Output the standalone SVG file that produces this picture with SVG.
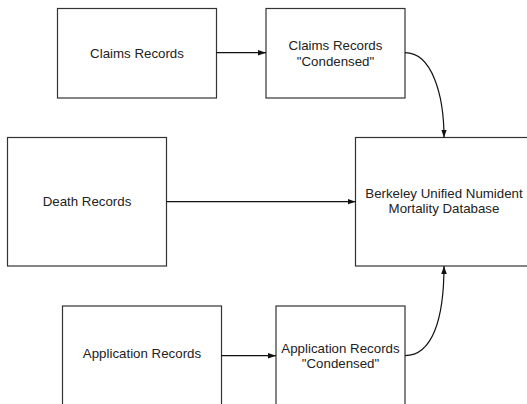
<svg xmlns="http://www.w3.org/2000/svg" width="527" height="404" viewBox="0 0 527 404">
<style>
.box{fill:#fff;stroke:#333;stroke-width:1.2}
.lbl{font-family:"Liberation Sans",Arial,sans-serif;font-size:13.3px;fill:#222;text-anchor:middle}
.edge{fill:none;stroke:#111;stroke-width:1.2}
</style>
<defs>
<marker id="arr" viewBox="0 0 10 10" refX="10" refY="5" markerWidth="8" markerHeight="8" markerUnits="userSpaceOnUse" orient="auto">
<path d="M0,1.5 L10,5 L0,8.5 Z" fill="#111"/>
</marker>
</defs>
<rect width="527" height="404" fill="#fff"/>
<g id="claims">
<rect class="box" x="57.5" y="8.5" width="159" height="89.5"/>
<text class="lbl" x="137" y="57.5">Claims Records</text>
</g>
<g id="claims-condensed">
<rect class="box" x="266" y="8.5" width="139" height="89.5"/>
<text class="lbl" x="335.5" y="50">Claims Records</text>
<text class="lbl" x="335.5" y="65.5">"Condensed"</text>
</g>
<g id="death">
<rect class="box" x="7.5" y="137.5" width="159" height="128.5"/>
<text class="lbl" x="87" y="205.5">Death Records</text>
</g>
<g id="bunmd">
<rect class="box" x="355.5" y="137.5" width="178" height="128.5"/>
<text class="lbl" x="444" y="197.8">Berkeley Unified Numident</text>
<text class="lbl" x="444" y="213">Mortality Database</text>
</g>
<g id="application">
<rect class="box" x="62.5" y="306" width="159" height="110"/>
<text class="lbl" x="142" y="357.8">Application Records</text>
</g>
<g id="application-condensed">
<rect class="box" x="276" y="306" width="129" height="110"/>
<text class="lbl" x="340.5" y="352.5">Application Records</text>
<text class="lbl" x="340.5" y="367.8">"Condensed"</text>
</g>
<g id="connectors">
<path class="edge" d="M216.5,52.7 L266,52.7" marker-end="url(#arr)"/>
<path class="edge" d="M405,52.7 C432,52.7 444,95 444,137.5" marker-end="url(#arr)"/>
<path class="edge" d="M166.5,201.7 L355.5,201.7" marker-end="url(#arr)"/>
<path class="edge" d="M221.5,355.7 L276,355.7" marker-end="url(#arr)"/>
<path class="edge" d="M405,355.7 C432,355.7 444,320 444,266" marker-end="url(#arr)"/>
</g>
</svg>
